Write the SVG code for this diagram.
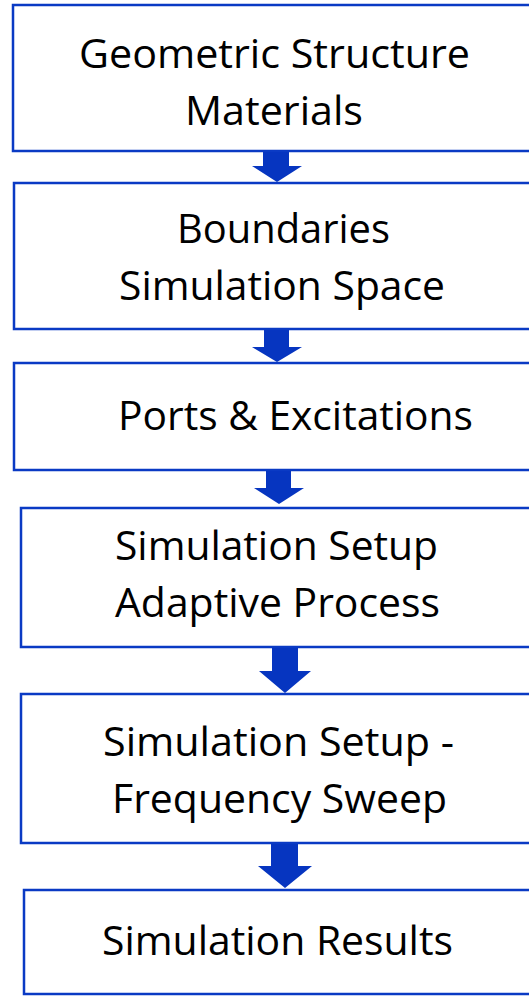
<svg xmlns="http://www.w3.org/2000/svg" width="529" height="996" viewBox="0 0 529 996">
<defs>
<style>
.box{fill:#ffffff;stroke:#0A3AC4;stroke-width:2.5}
.t{font-family:"Open Sans","Liberation Sans",sans-serif;font-size:40px;fill:#000000}
.arr{fill:#0635C0}
</style>
</defs>
<rect width="529" height="996" fill="#ffffff"/>
<g id="connectors">
<path class="arr" d="M263,151 H289 V166 H302 L277,182 L252,166 H263 Z"/>
<path class="arr" d="M264,329 H289 V347 H302 L277,362 L252,347 H264 Z"/>
<path class="arr" d="M266,470 H291 V488 H304 L279,504 L254,488 H266 Z"/>
<path class="arr" d="M272,647 H298 V671 H311 L285,693 L259,671 H272 Z"/>
<path class="arr" d="M271,843 H298 V866 H312 L285,888 L258,866 H271 Z"/>
</g>
<g id="node1">
<rect class="box" x="13" y="5" width="540" height="146"/>
<text class="t" x="79" y="68" textLength="391" lengthAdjust="spacingAndGlyphs">Geometric Structure</text>
<text class="t" x="185" y="125" textLength="178" lengthAdjust="spacingAndGlyphs">Materials</text>
</g>
<g id="node2">
<rect class="box" x="14" y="183" width="540" height="146"/>
<text class="t" x="177" y="243" textLength="213" lengthAdjust="spacingAndGlyphs">Boundaries</text>
<text class="t" x="119" y="300" textLength="326" lengthAdjust="spacingAndGlyphs">Simulation Space</text>
</g>
<g id="node3">
<rect class="box" x="14" y="363" width="540" height="107"/>
<text class="t" x="118" y="430" textLength="355" lengthAdjust="spacingAndGlyphs">Ports &amp; Excitations</text>
</g>
<g id="node4">
<rect class="box" x="21" y="508" width="540" height="139"/>
<text class="t" x="115" y="560" textLength="323" lengthAdjust="spacingAndGlyphs">Simulation Setup</text>
<text class="t" x="115" y="617" textLength="325" lengthAdjust="spacingAndGlyphs">Adaptive Process</text>
</g>
<g id="node5">
<rect class="box" x="21" y="694" width="540" height="149"/>
<text class="t" x="103" y="756" textLength="351" lengthAdjust="spacingAndGlyphs">Simulation Setup -</text>
<text class="t" x="112" y="813" textLength="335" lengthAdjust="spacingAndGlyphs">Frequency Sweep</text>
</g>
<g id="node6">
<rect class="box" x="24" y="890" width="540" height="104"/>
<text class="t" x="102" y="955" textLength="351" lengthAdjust="spacingAndGlyphs">Simulation Results</text>
</g>
</svg>
